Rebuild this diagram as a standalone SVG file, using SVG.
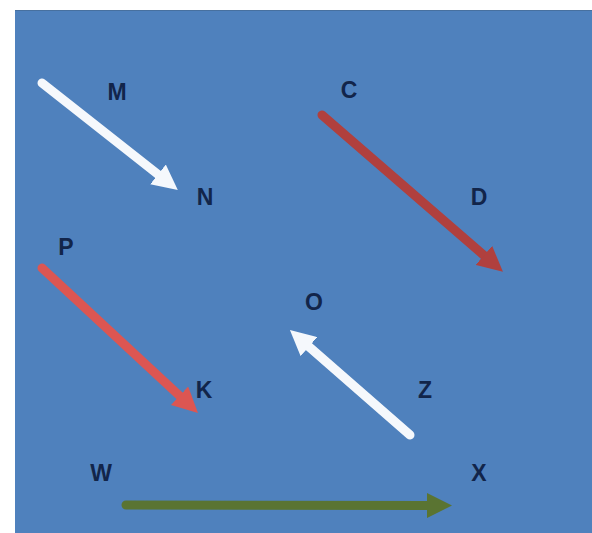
<svg xmlns="http://www.w3.org/2000/svg" width="592" height="533" viewBox="0 0 592 533">
<style>
.lbl{font-family:"Liberation Sans",Arial,sans-serif;font-weight:bold;font-size:23px;fill:#12254a;text-anchor:middle}
.ln{stroke-width:9;stroke-linecap:round;fill:none}
</style>
<defs>
<marker id="aw" viewBox="0 0 10 10" refX="1" refY="5" markerWidth="2.8" markerHeight="2.8" orient="auto" markerUnits="strokeWidth"><path d="M0,0 L10,5 L0,10 z" fill="#f5f8fc"/></marker>
<marker id="ad" viewBox="0 0 10 10" refX="1" refY="5" markerWidth="2.8" markerHeight="2.8" orient="auto" markerUnits="strokeWidth"><path d="M0,0 L10,5 L0,10 z" fill="#b0403e"/></marker>
<marker id="al" viewBox="0 0 10 10" refX="1" refY="5" markerWidth="2.8" markerHeight="2.8" orient="auto" markerUnits="strokeWidth"><path d="M0,0 L10,5 L0,10 z" fill="#dc5652"/></marker>
<marker id="ag" viewBox="0 0 10 10" refX="1" refY="5" markerWidth="2.8" markerHeight="2.8" orient="auto" markerUnits="strokeWidth"><path d="M0,0 L10,5 L0,10 z" fill="#5a7432"/></marker>
</defs>
<rect x="0" y="0" width="592" height="533" fill="#ffffff"/>
<rect x="15" y="10" width="577" height="523" fill="#4f81bd"/>
<line x1="15" y1="10.5" x2="592" y2="10.5" stroke="#47709f" stroke-width="1"/>
<g id="connectors">
<line class="ln" x1="42" y1="83" x2="160" y2="176" stroke="#f5f8fc" marker-end="url(#aw)"/>
<line class="ln" x1="322" y1="115" x2="485.8" y2="257" stroke="#b0403e" marker-end="url(#ad)"/>
<line class="ln" x1="42" y1="268" x2="181.4" y2="397.5" stroke="#dc5652" marker-end="url(#al)"/>
<line class="ln" x1="410" y1="435" x2="307" y2="345" stroke="#f5f8fc" marker-end="url(#aw)"/>
<line class="ln" x1="126" y1="505" x2="429.3" y2="505.5" stroke="#5a7432" marker-end="url(#ag)"/>
</g>
<g id="M"><text class="lbl" x="117" y="100">M</text></g>
<g id="N"><text class="lbl" x="205" y="205">N</text></g>
<g id="C"><text class="lbl" x="349" y="98">C</text></g>
<g id="D"><text class="lbl" x="479" y="205">D</text></g>
<g id="P"><text class="lbl" x="66" y="255">P</text></g>
<g id="K"><text class="lbl" x="204" y="398">K</text></g>
<g id="O"><text class="lbl" x="314" y="310">O</text></g>
<g id="Z"><text class="lbl" x="425" y="398">Z</text></g>
<g id="W"><text class="lbl" x="101" y="481">W</text></g>
<g id="X"><text class="lbl" x="479" y="481">X</text></g>
</svg>
